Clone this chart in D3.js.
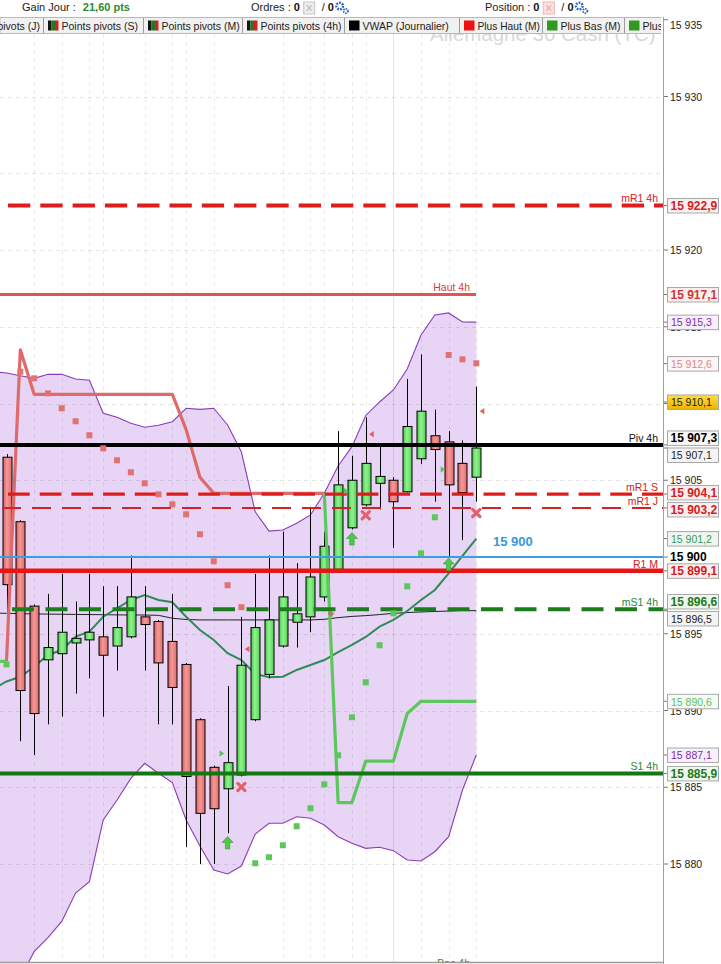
<!DOCTYPE html>
<html><head><meta charset="utf-8">
<script src="https://cdn.jsdelivr.net/npm/d3@7"></script>
<style>
html,body{margin:0;padding:0;background:#fff;overflow:hidden;}
svg{display:block;font-family:"Liberation Sans",Arial,sans-serif;}
</style></head><body>
<svg id="c" width="721" height="964"></svg>
<script>
// ---------------- DATA ----------------
const opens  = [15906.5,15902.3,15896.8,15893.3,15893.7,15894.4,15894.6,15894.8,15894.2,15894.8,15896.1,15895.8,15894.5,15893.0,15889.4,15886.3,15884.9,15885.8,15889.4,15892.35,15894.2,15895.75,15896.1,15897.4,15899.2,15901.9,15903.4,15904.8,15905.0,15904.25,15906.4,15907.9,15907.5,15906.1,15905.2];
const highs  = [15906.7,15902.4,15896.9,15897.6,15898.9,15897.1,15898.9,15898.1,15898.1,15900.1,15898.1,15895.9,15897.6,15893.1,15889.5,15886.4,15891.6,15896.1,15898.9,15900.1,15901.65,15899.6,15903.2,15901.65,15908.2,15906.6,15909.1,15907.2,15905.2,15911.6,15913.2,15909.6,15908.2,15907.6,15911.1];
const lows   = [15893.5,15888.0,15887.1,15889.1,15889.6,15891.1,15892.1,15889.6,15892.6,15894.7,15892.6,15889.1,15889.1,15881.1,15880.0,15880.0,15882.0,15885.7,15889.3,15892.1,15894.1,15894.1,15895.1,15897.1,15899.1,15901.8,15903.3,15903.1,15900.6,15904.2,15906.05,15903.6,15900.0,15901.1,15903.6];
const closes = [15898.2,15891.3,15889.8,15894.1,15895.1,15894.7,15895.1,15893.6,15895.4,15897.4,15895.6,15893.1,15891.5,15885.7,15883.3,15883.6,15886.6,15892.95,15895.4,15895.9,15897.4,15896.3,15898.7,15900.7,15904.7,15905.0,15906.1,15905.25,15903.6,15908.5,15909.5,15907.0,15904.7,15904.2,15907.1];

// series starting one bar before the first candle (index -1 .. 34)
const bandUpper = [15912.07,15911.99,15911.81,15911.64,15911.90,15911.90,15911.60,15911.51,15909.36,15909.10,15908.71,15908.45,15908.58,15908.81,15909.69,15909.62,15909.69,15908.60,15906.84,15902.95,15901.69,15901.76,15902.20,15902.74,15904.15,15905.93,15907.19,15909.22,15910.10,15910.88,15912.25,15914.46,15915.77,15915.90,15915.31,15915.3];
const bandLower = [15869.8,15871.1,15872.6,15874.29,15875.21,15876.26,15878.11,15878.85,15882.87,15884.17,15885.58,15886.56,15885.91,15885.30,15882.87,15881.17,15879.61,15879.35,15879.87,15881.95,15882.65,15882.65,15883.08,15882.98,15882.54,15881.78,15881.35,15881.02,15881.09,15880.87,15880.26,15880.20,15880.80,15881.78,15884.82,15887.1];
const maGreen   = [15891.4,15891.89,15892.20,15892.85,15893.62,15893.94,15894.81,15895.13,15896.11,15896.66,15897.20,15897.52,15897.20,15897.05,15896.11,15895.24,15894.59,15893.73,15893.29,15892.38,15892.16,15892.20,15892.64,15892.96,15893.29,15893.81,15894.27,15894.79,15895.46,15895.90,15896.48,15897.20,15897.85,15898.94,15900.07,15901.2];
const vwap      = [15896.35,15896.33,15896.31,15896.29,15896.28,15896.27,15896.26,15896.25,15896.24,15896.23,15896.22,15896.22,15896.20,15896.01,15895.93,15895.90,15895.90,15895.90,15895.90,15895.90,15895.90,15895.90,15895.90,15895.90,15895.94,15896.05,15896.13,15896.18,15896.25,15896.33,15896.38,15896.42,15896.45,15896.48,15896.51,15896.5];
const stopHigh  = [null,15893.2,15913.5,15910.6,15910.6,15910.6,15910.6,15910.6,15910.6,15910.6,15910.6,15910.6,15910.6,15910.6,15908.3,15905.2,15904.15,15904.15,15904.15,15904.15,15904.15,15904.15,15904.15,15904.15,15904.15,null,null,null,null,null,null,null,null,null,null,null];
const stopLow   = [15893.2,15893.2,null,null,null,null,null,null,null,null,null,null,null,null,null,null,null,null,null,null,null,null,null,null,15904.15,15884.0,15884.0,15886.7,15886.7,15886.7,15889.8,15890.6,15890.6,15890.6,15890.6,15890.6];

// parabolic dots, one per candle
const sarValues = [15893.0,15912.07,15911.64,15910.66,15909.69,15908.84,15907.93,15907.08,15906.30,15905.52,15904.80,15904.08,15903.43,15902.78,15901.48,15899.72,15898.16,15896.73,15880.05,15880.44,15881.22,15882.46,15883.63,15885.19,15887.08,15889.56,15891.84,15894.25,15896.33,15898.09,15900.24,15902.59,15913.16,15912.88,15912.62];

// signals
const buyIdx   = [16, 25, 32];
const buyVal   = [15881.37, 15901.17, 15899.51];
const sellIdx  = [17, 26, 34];
const sellVal  = [15885.02, 15902.72, 15902.87];
const upTriIdx = [16, 24, 25, 32];
const upTriVal = [15887.2, 15896.3, 15904.3, 15905.7];
const dnTriIdx = [17, 23, 26, 34];
const dnTriVal = [15894.0, 15896.3, 15908.0, 15909.5];

// horizontal levels
const levelNames  = ["mR1 4h","Haut 4h","Piv 4h","mR1 S","mR1 J","15 900","R1 M","mS1 4h","S1 4h","Bas 4h"];
const levelValues = [15922.9, 15917.1, 15907.3, 15904.1, 15903.2, 15900.0, 15899.1, 15896.6, 15885.9, 15873.1];

// right scale
const tickValues = [15880,15885,15890,15895,15900,15905,15910,15915,15920,15930,15935];
const gridValues = [15880,15885,15890,15895,15900,15905,15910,15915,15920,15925,15930,15935];
const gridIdx    = [2,4,6,7,10,12,13,15,20,22,23,25,26,28,30,32,34];
const tagValues  = [15922.9,15917.1,15915.3,15912.6,15910.1,15907.3,15907.1,15904.1,15903.2,15901.2,15899.1,15896.6,15896.5,15890.6,15887.1,15885.9];
const tagKinds   = ["res","haut","bb","sar","yel","piv","last","res","res","ma","res","sup","vwap","stop","bb","sup"];

// toolbar
const gainLabel = "Gain Jour : ", gainValue = "21,60 pts";
const tabLabels = ["Points pivots (J)","Points pivots (S)","Points pivots (M)","Points pivots (4h)","VWAP (Journalier)","Plus Haut (M)","Plus Bas (M)","Plus Bas (J)"];
const tabIcons  = ["piv","piv","piv","piv","black","red","green","green"];
const watermark = "Allemagne 30 Cash (TC)";

// ---------------- DRAW ----------------
const svg = d3.select("#c");
const AX = 664, TOP = 34, BOT = 962;
const x = d3.scaleLinear().domain([0, 34]).range([6.5, 476.3]);
const y = d3.scaleLinear().domain([15880, 15920]).range([864, 250]);
const fmt = v => { const r = Math.round(v*10)/10; const s = (Number.isInteger(r)?r.toFixed(0):r.toFixed(1)).replace(".", ","); const p = s.split(","); return p[0].slice(0,2)+" "+p[0].slice(2)+(p[1]?","+p[1]:""); };

const defs = svg.append("defs");
defs.append("clipPath").attr("id","plot").append("rect").attr("x",0).attr("y",TOP).attr("width",AX).attr("height",BOT-TOP);
defs.append("clipPath").attr("id","tabs").append("rect").attr("x",0).attr("y",17).attr("width",661).attr("height",17);
function grad(id, stops){ const g = defs.append("linearGradient").attr("id",id).attr("x1","0").attr("x2","1").attr("y1","0").attr("y2","0");
  stops.forEach(s=>g.append("stop").attr("offset",s[0]).attr("stop-color",s[1])); }
grad("gRed",[[0,"#dd5e5e"],[0.45,"#f39a9a"],[1,"#e16a6a"]]);
grad("gGreen",[[0,"#3fcf3f"],[0.45,"#94f094"],[1,"#4bd44b"]]);
const gy = defs.append("linearGradient").attr("id","gYel").attr("x1",0).attr("x2",0).attr("y1",0).attr("y2",1);
gy.append("stop").attr("offset",0).attr("stop-color","#ffdc45"); gy.append("stop").attr("offset",1).attr("stop-color","#efb300");

svg.append("rect").attr("width",721).attr("height",964).attr("fill","#fff");

// watermark
svg.append("text").attr("x",430).attr("y",41).attr("font-size",20.5).attr("fill","#d9d9d9").text(watermark);

const plot = svg.append("g").attr("clip-path","url(#plot)");
const bx = i => x(i-1);

// bollinger fill
plot.append("path").datum(bandUpper.map((u,i)=>[i,u,bandLower[i]]))
  .attr("d", d3.area().x(d=>bx(d[0])).y0(d=>y(d[2])).y1(d=>y(d[1])))
  .attr("fill","#e8d5f6");

// grid
plot.append("g").selectAll("line").data(gridValues).join("line")
  .attr("x1",0).attr("x2",AX).attr("y1",d=>Math.round(y(d))+0.5).attr("y2",d=>Math.round(y(d))+0.5)
  .attr("stroke","rgba(0,0,0,0.10)").attr("stroke-dasharray","4,4");
plot.append("g").selectAll("line").data(gridIdx).join("line")
  .attr("x1",d=>Math.round(x(d))+0.5).attr("x2",d=>Math.round(x(d))+0.5).attr("y1",TOP).attr("y2",BOT)
  .attr("stroke",d=>d===28?"rgba(0,0,0,0.10)":"rgba(0,0,0,0.08)").attr("stroke-dasharray",d=>d===28?null:"4,4");

// band edges
const bl = d3.line().x((d,i)=>bx(i)).y(d=>y(d));
plot.append("path").attr("d",bl(bandUpper)).attr("fill","none").attr("stroke","#8a3cb8").attr("stroke-width",1.1);
plot.append("path").attr("d",bl(bandLower)).attr("fill","none").attr("stroke","#8a3cb8").attr("stroke-width",1.1);
// vwap & ma
plot.append("path").attr("d",bl(vwap)).attr("fill","none").attr("stroke","#222").attr("stroke-width",1);
plot.append("path").attr("d",bl(maGreen)).attr("fill","none").attr("stroke","#2e8b57").attr("stroke-width",2);

// candles
const cg = plot.append("g");
const idx = d3.range(opens.length);
cg.selectAll("line.w").data(idx).join("line").attr("class","w")
  .attr("x1",i=>Math.round(x(i))+0.5).attr("x2",i=>Math.round(x(i))+0.5)
  .attr("y1",i=>y(highs[i])).attr("y2",i=>y(lows[i])).attr("stroke","#000").attr("stroke-width",1);
cg.selectAll("rect").data(idx).join("rect")
  .attr("x",i=>Math.round(x(i))-4).attr("width",9)
  .attr("y",i=>y(Math.max(opens[i],closes[i])))
  .attr("height",i=>Math.max(1,Math.abs(y(opens[i])-y(closes[i]))))
  .attr("fill",i=>closes[i]>=opens[i]?"url(#gGreen)":"url(#gRed)")
  .attr("stroke","#000").attr("stroke-width",1);

// stop lines
const sl = d3.line().defined(d=>d!=null).x((d,i)=>bx(i)).y(d=>y(d));
plot.append("path").attr("d",sl(stopHigh)).attr("fill","none").attr("stroke","#e06a6a").attr("stroke-width",3.2).attr("stroke-linejoin","round");
plot.append("path").attr("d",sl(stopLow)).attr("fill","none").attr("stroke","#5cc75c").attr("stroke-width",3.2).attr("stroke-linejoin","round");

// levels
const levelStyle = {
  "mR1 4h":{c:"#e01b1b",w:4,dash:"22.3,10",x0:8,x1:AX,lx:658,lc:"#d42020"},
  "Haut 4h":{c:"#e25454",w:3,x0:0,x1:476,lx:470,lc:"#d43c3c"},
  "Piv 4h":{c:"#000",w:4,x0:0,x1:AX,lx:658,lc:"#111"},
  "mR1 S":{c:"#de1c1c",w:3.2,dash:"21.7,10",x0:8,x1:AX,lx:658,lc:"#d42020"},
  "mR1 J":{c:"#d42222",w:2,dash:"19,11",x0:2,x1:AX,lx:658,lc:"#d42020"},
  "15 900":{c:"#3a9ee0",w:2,x0:0,x1:AX,lx:null},
  "R1 M":{c:"#e81515",w:4.5,x0:0,x1:AX,lx:658,lc:"#d42020"},
  "mS1 4h":{c:"#1b7d1b",w:4,dash:"22,11.5",x0:12,x1:AX,lx:658,lc:"#2a8a2a"},
  "S1 4h":{c:"#137813",w:4,x0:0,x1:AX,lx:658,lc:"#2a8a2a"},
  "Bas 4h":{c:"#1c8a1c",w:3,x0:0,x1:476,lx:470,lc:"#2a8a2a"}
};
const lg = plot.append("g");
levelNames.forEach((n,i)=>{
  const s = levelStyle[n], yy = y(levelValues[i]);
  lg.append("line").attr("x1",s.x0).attr("x2",s.x1).attr("y1",yy).attr("y2",yy)
    .attr("stroke",s.c).attr("stroke-width",s.w).attr("stroke-dasharray",s.dash||null);
  if (s.lx) lg.append("text").attr("x",s.lx).attr("y",yy-3.2).attr("text-anchor","end")
    .attr("font-size",10.5).attr("fill",s.lc).text(n);
});
plot.append("text").attr("x",493).attr("y",y(15900)-11).attr("font-size",13).attr("font-weight","bold")
  .attr("fill","#3399dd").text(levelNames[5]);

// SAR dots
plot.append("g").selectAll("rect").data(idx).join("rect")
  .attr("x",i=>x(i)-3).attr("y",i=>y(sarValues[i])-3).attr("width",6).attr("height",6)
  .attr("fill",i=>sarValues[i]>highs[i]?"#e07272":"#5cc85c");

// signals
const mg = plot.append("g");
buyIdx.forEach((k,i)=>mg.append("path").attr("transform",`translate(${x(k)},${y(buyVal[i])})`)
  .attr("d","M0,-6.5L5.5,-0.5L2.2,-0.5L2.2,6L-2.2,6L-2.2,-0.5L-5.5,-0.5Z").attr("fill","#4cc84c").attr("stroke","#2f9a2f").attr("stroke-width",0.6));
sellIdx.forEach((k,i)=>mg.append("path").attr("transform",`translate(${x(k)},${y(sellVal[i])})`)
  .attr("d","M-3.6,-3.6L3.6,3.6M3.6,-3.6L-3.6,3.6").attr("stroke","#e0626e").attr("stroke-width",3.2).attr("stroke-linecap","round"));
upTriIdx.forEach((k,i)=>mg.append("path").attr("transform",`translate(${x(k)-6},${y(upTriVal[i])})`)
  .attr("d","M-2,-3.2L2.6,0L-2,3.2Z").attr("fill","#55c455"));
dnTriIdx.forEach((k,i)=>mg.append("path").attr("transform",`translate(${x(k)+6},${y(dnTriVal[i])})`)
  .attr("d","M2,-3.2L-2.6,0L2,3.2Z").attr("fill","#e06060"));

// bottom border
svg.append("line").attr("x1",0).attr("x2",AX).attr("y1",962.5).attr("y2",962.5).attr("stroke","#9a9a9a").attr("stroke-width",1.5);

// ---------------- RIGHT SCALE ----------------
svg.append("line").attr("x1",AX-0.5).attr("x2",AX-0.5).attr("y1",0).attr("y2",964).attr("stroke","#a0a0a0");
const ax = svg.append("g");
const kindStyle = {
  res:{fill:"#fbeeee",c:"#cf1f1f",b:true}, haut:{fill:"#fbeeee",c:"#cf3535",b:true},
  bb:{fill:"#f7f0fb",c:"#7f2bb0",b:false}, sar:{fill:"#fdf6f6",c:"#e08585",b:false},
  yel:{fill:"url(#gYel)",c:"#222",b:false}, piv:{fill:"#f8f8f8",c:"#000",b:true},
  last:{fill:"#f4f4f4",c:"#222",b:false}, ma:{fill:"#eef6ef",c:"#3a9a5a",b:false},
  sup:{fill:"#eef6ee",c:"#1c7a1c",b:true}, vwap:{fill:"#f4f4f4",c:"#222",b:false},
  stop:{fill:"#f3faf3",c:"#62c062",b:false}
};
const tags = tagValues.map((v,i)=>({v, y0:y(v), y:y(v), k:tagKinds[i]})).sort((a,b)=>a.y-b.y);
for (let it=0; it<60; it++) for (let i=1;i<tags.length;i++){
  const d = tags[i].y - tags[i-1].y; if (d<17){ const s=(17-d)/2; tags[i].y+=s; tags[i-1].y-=s; } }
tickValues.forEach(v=>{
  const yy = y(v), ty = Math.max(yy, 25);
  ax.append("line").attr("x1",AX).attr("x2",AX+4).attr("y1",yy).attr("y2",yy).attr("stroke","#777");
  if (tags.some(t=>Math.abs(t.y-ty)<4)) return; // label fully hidden by a value tag
  ax.append("text").attr("x",670).attr("y",ty+4).attr("font-size",v===levelValues[5]?12:10.5)
    .attr("font-weight",v===levelValues[5]?"bold":"normal").attr("fill",v===levelValues[5]?"#000":"#222").text(fmt(v));
});
tags.forEach(t=>{
  const s = kindStyle[t.k];
  ax.append("line").attr("x1",AX).attr("x2",668).attr("y1",t.y0).attr("y2",t.y0).attr("stroke","#777");
  ax.append("rect").attr("x",667.5).attr("y",t.y-7).attr("width",51).attr("height",14.5)
    .attr("fill",s.fill).attr("stroke","#a8a8a8").attr("stroke-width",1);
  ax.append("text").attr("x",s.b?670.5:671).attr("y",t.y+4.3).attr("font-size",s.b?12:10.5)
    .attr("font-weight",s.b?"bold":"normal").attr("fill",s.c).text(fmt(t.v));
});

// ---------------- TOOLBAR ----------------
const tb = svg.append("g");
tb.append("rect").attr("x",0).attr("y",0).attr("width",721).attr("height",17).attr("fill","#fff");
tb.append("text").attr("x",22).attr("y",11).attr("font-size",11).attr("fill","#222").text(gainLabel)
  .append("tspan").attr("font-weight","bold").attr("fill","#2e8b2e").attr("dx",4).text(gainValue);
function counter(x0, label, iconFill, iconStroke){
  const t = tb.append("text").attr("x",x0).attr("y",11).attr("font-size",11).attr("fill","#222").text(label);
  const w = t.node().getComputedTextLength();
  tb.append("text").attr("x",x0+w+3).attr("y",11).attr("font-size",11).attr("font-weight","bold").attr("fill","#111").text("0");
  const ix = x0+w+13;
  tb.append("rect").attr("x",ix).attr("y",2).attr("width",11).attr("height",12).attr("fill",iconFill).attr("stroke",iconStroke);
  tb.append("path").attr("d",`M${ix+3},${5}L${ix+8},${11}M${ix+8},${5}L${ix+3},${11}`).attr("stroke",iconStroke).attr("stroke-width",1.4);
  tb.append("text").attr("x",ix+18).attr("y",11).attr("font-size",11).attr("fill","#111").text("/ ")
    .append("tspan").attr("font-weight","bold").text("0");
  const gx = ix+36;
  tb.append("circle").attr("cx",gx).attr("cy",6).attr("r",3.3).attr("fill","none").attr("stroke","#2a62c9").attr("stroke-width",2.4).attr("stroke-dasharray","1.8,1.1");
  tb.append("circle").attr("cx",gx+6).attr("cy",11).attr("r",2.2).attr("fill","none").attr("stroke","#2a62c9").attr("stroke-width",1.8).attr("stroke-dasharray","1.4,0.9");
}
counter(251, "Ordres : ", "#eeeeee", "#c4c4c4");
counter(485, "Position : ", "#fbe3e3", "#efb0b0");

// tabs row
const tr = tb.append("g").attr("clip-path","url(#tabs)");
tr.append("rect").attr("x",0).attr("y",17.5).attr("width",664).attr("height",16).attr("fill","#f1f1f1").attr("stroke","#b8b8b8");
const tabX = [-1, 44, 144, 243, 345, 460, 543, 625];
tabLabels.forEach((lab,i)=>{
  const x0 = tabX[i];
  if (i>0) tr.append("line").attr("x1",x0-0.5).attr("x2",x0-0.5).attr("y1",18).attr("y2",33).attr("stroke","#9c9c9c");
  if (i===0){
    tr.append("text").attr("x",40).attr("y",29.5).attr("text-anchor","end").attr("font-size",10.5).attr("fill","#222").text(lab);
    return;
  }
  const ix = x0+4;
  if (tabIcons[i]==="piv"){
    tr.append("rect").attr("x",ix).attr("y",20.5).attr("width",3.5).attr("height",10).attr("fill","#151515");
    tr.append("rect").attr("x",ix+3.5).attr("y",20.5).attr("width",3.5).attr("height",10).attr("fill","#1f7a1f");
    tr.append("rect").attr("x",ix+7).attr("y",20.5).attr("width",3.5).attr("height",10).attr("fill","#d42020");
  } else {
    const c = {black:"#000",red:"#ee1111",green:"#2f9a1f"}[tabIcons[i]];
    tr.append("rect").attr("x",ix).attr("y",20.5).attr("width",10.5).attr("height",10).attr("fill",c);
  }
  const maxW = (i+1<tabX.length?tabX[i+1]:664) - (ix+13.5) - 3;
  const t = tr.append("text").attr("x",ix+13.5).attr("y",29.5).attr("font-size",10.5).attr("fill","#222").text(lab);
  if (i+1<tabX.length && t.node().getComputedTextLength()>maxW) t.attr("textLength",maxW).attr("lengthAdjust","spacingAndGlyphs");
});
</script>
</body></html>
